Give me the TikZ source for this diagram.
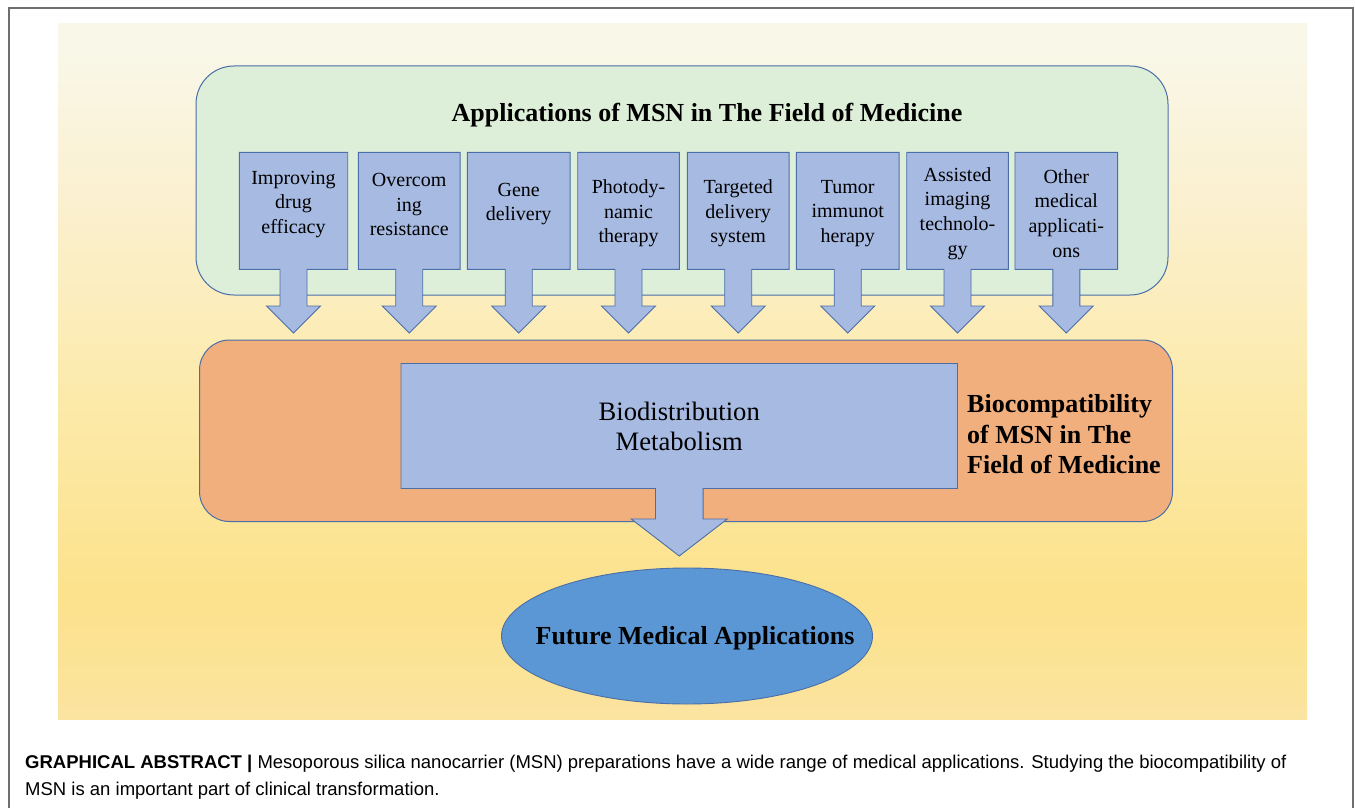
\documentclass[tikz,border=0pt]{standalone}
\usepackage{fontspec}
\setmainfont{Liberation Serif}
\newfontfamily\capfont{Liberation Sans}
\usetikzlibrary{shapes.geometric,calc}

\definecolor{framegray}{HTML}{6E6E6E}
\definecolor{edgeblue}{HTML}{4A6EA8}
\definecolor{panelgreen}{HTML}{DEEFD9}
\definecolor{panelorange}{HTML}{F1AF7D}
\definecolor{boxblue}{HTML}{A7BAE2}
\definecolor{ovalblue}{HTML}{5B97D4}
\definecolor{bgA}{HTML}{FAE4A2}
\definecolor{bgB}{HTML}{FBE39A}
\definecolor{bgC}{HTML}{FCE28C}
\definecolor{bgD}{HTML}{FCEAAA}
\definecolor{bgE}{HTML}{FBF0CF}
\definecolor{bgF}{HTML}{F9F7E8}

% pale-to-yellow backdrop, bottom to top
\pgfdeclareverticalshading{backdrop}{100bp}{%
  color(0bp)=(bgA); color(25bp)=(bgA); color(27bp)=(bgB); color(34bp)=(bgC);
  color(48bp)=(bgD); color(62bp)=(bgE); color(73bp)=(bgF); color(75bp)=(bgF);
  color(100bp)=(bgF)}

\pgfdeclarelayer{back}
\pgfdeclarelayer{mid}
\pgfsetlayers{back,mid,main}

% outline of a box with a downward arrow hanging from its bottom edge
% #1 node, #2 stem half width, #3 head half width, #4 stem length, #5 head length
\newcommand{\calloutpath}[5]{%
  (#1.north west) -- (#1.north east) -- (#1.south east)
  -- ($(#1.south)+(#2,0)$) -- ++(0,#4) -- ++(#3-#2,0) -- ++(-#3,#5)
  -- ++(-#3,-#5) -- ++(#3-#2,0) -- ++(0,-#4) -- (#1.south west) -- cycle}

\begin{document}
\begin{tikzpicture}[x=1pt,y=-1pt,
  frame/.style={draw=framegray,line width=1.1pt},
  panel/.style={draw=edgeblue,line width=1pt,inner sep=0pt,outer sep=0pt},
  callout/.style={fill=boxblue,draw=edgeblue,line width=0.9pt,line join=miter},
  boxslot/.style={inner sep=0pt,outer sep=0pt,minimum height=117pt},
  boxtext/.style={align=center,inner sep=0pt,font=\fontsize{20}{24.7}\selectfont},
  headtext/.style={inner sep=0pt,font=\bfseries\fontsize{26}{30}\selectfont},
  captext/.style={anchor=base west,inner sep=0pt,font=\capfont\fontsize{18.5}{22}\selectfont}]

\useasboundingbox (0,0) rectangle (1355,808);

\begin{pgfonlayer}{back}
  \fill[white] (0,0) rectangle (1355,808);
  \shade[shading=backdrop] (58,24) rectangle (1307,719);
  \draw[frame] (9,808) -- (9,8) -- (1353,8) -- (1353,808);
  \node (apps) [panel,fill=panelgreen,rounded corners=38pt,
        minimum width=972pt,minimum height=229pt] at (682,180.5) {};
  \node (compat) [panel,fill=panelorange,rounded corners=30pt,
        minimum width=973pt,minimum height=181.5pt] at (686,430.75) {};
\end{pgfonlayer}

\node[headtext] (apps-title) at (707,115) {Applications of MSN in The Field of Medicine};

% eight application boxes
\node[boxslot,minimum width=108.4pt] (b1) at (293.5,210.8) {};
\node[boxslot,minimum width=101.7pt] (b2) at (409.2,210.8) {};
\node[boxslot,minimum width=102.7pt] (b3) at (518.7,210.8) {};
\node[boxslot,minimum width=101.6pt] (b4) at (628.5,210.8) {};
\node[boxslot,minimum width=101.7pt] (b5) at (738.2,210.8) {};
\node[boxslot,minimum width=102.7pt] (b6) at (847.7,210.8) {};
\node[boxslot,minimum width=101.6pt] (b7) at (957.5,210.8) {};
\node[boxslot,minimum width=102.7pt] (b8) at (1066.3,210.8) {};

\node[boxtext] (b1-label) at (293.5,204.5) {Improving\\drug\\efficacy};
\node[boxtext] (b2-label) at (409.2,204.5) {Overcom\\ing\\resistance};
\node[boxtext] (b3-label) at (518.7,204) {Gene\\delivery};
\node[boxtext] (b4-label) at (628.5,213.5) {Photody-\\namic\\therapy};
\node[boxtext] (b5-label) at (738.2,213.5) {Targeted\\delivery\\system};
\node[boxtext] (b6-label) at (847.7,213.5) {Tumor\\immunot\\herapy};
\node[boxtext] (b7-label) at (957.5,213.5) {Assisted\\imaging\\technolo-\\gy};
\node[boxtext] (b8-label) at (1066.3,213.5) {Other\\medical\\applicati-\\ons};

% central box inside the orange panel
\node[inner sep=0pt,outer sep=0pt,minimum width=556.5pt,minimum height=125pt,
      align=center,font=\fontsize{26.6}{30}\selectfont] (bio) at (679.25,426)
      {Biodistribution\\Metabolism};

\node[anchor=west,align=left,inner sep=0pt,
      font=\bfseries\fontsize{26}{30.5}\selectfont] (compat-title) at (967,434.5)
      {Biocompatibility\\of MSN in The\\Field of Medicine};

\begin{pgfonlayer}{mid}
  \foreach \b in {b1,b2,b3,b4,b5,b6,b7,b8}
    \draw[callout] \calloutpath{\b}{13.5}{27}{36.7}{27};
  \draw[callout] \calloutpath{bio}{23.8}{48}{30.5}{37};
\end{pgfonlayer}

\node[ellipse,fill=ovalblue,draw=edgeblue,line width=0.9pt,inner sep=0pt,
      minimum width=371pt,minimum height=136pt] (future) at (687,636) {};
\node[inner sep=0pt,font=\bfseries\fontsize{26}{30}\selectfont] (future-label)
      at (695,638) {Future Medical Applications};

% caption
\node[captext] (cap1) at (25,768) {\textbf{GRAPHICAL ABSTRACT |} Mesoporous silica nanocarrier (MSN) preparations have a wide range of medical applications. Studying the biocompatibility of};
\node[captext] (cap2) at (25,795) {MSN is an important part of clinical transformation.};
\end{tikzpicture}
\end{document}
